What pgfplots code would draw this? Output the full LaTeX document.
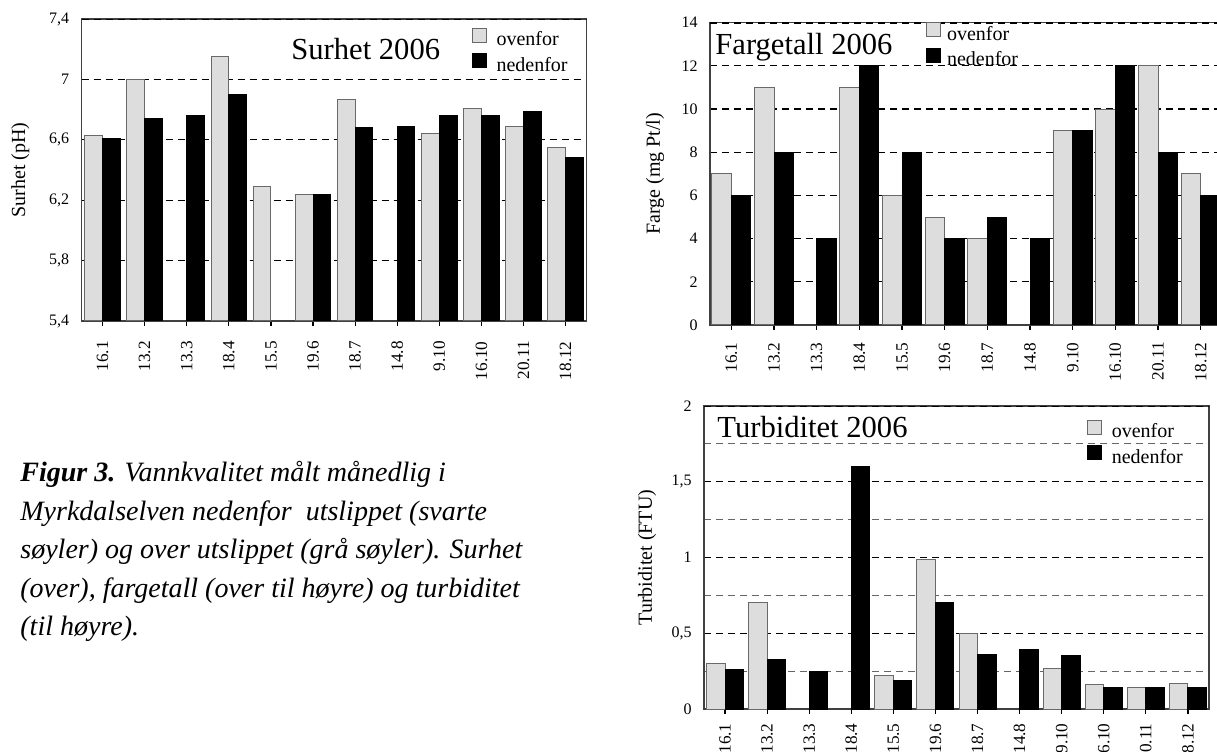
\documentclass[border=0pt]{standalone}
\usepackage{fontspec}
\setmainfont{Liberation Serif}
\usepackage{pgfplots}
\pgfplotsset{compat=1.18}
\definecolor{barGray}{RGB}{221,221,221}
\definecolor{edgeGray}{RGB}{105,105,105}
\newcommand\ticklabelfont{\fontsize{8}{9}\selectfont}
\newcommand\xticklabelfont{\fontsize{8.6}{9}\selectfont}
\newcommand\labelfont{\fontsize{10}{12}\selectfont}
\newcommand\legendfont{\fontsize{10}{12}\selectfont}
\newcommand\titlefont{\fontsize{15.3}{18}\selectfont}
\newcommand\capfont{\fontsize{14}{19}\selectfont\itshape}
\pgfplotsset{
  boxlegend/.style={legend image code/.code={\draw[##1] (0pt,-1pt) rectangle (7pt,6pt);}},
  gbar/.style={fill=barGray, draw=edgeGray, line width=0.5pt, boxlegend},
  kbar/.style={fill=black, draw=black, line width=0.5pt, boxlegend},
  myaxis/.style={
    scale only axis,
    anchor=south west,
    xmin=-0.5, xmax=11.5,
    xtick={0,...,11},
    xticklabels={16.1,13.2,13.3,18.4,15.5,19.6,18.7,14.8,9.10,16.10,20.11,18.12},
    xtick pos=left, ytick pos=left,
    xtick align=outside, ytick align=inside,
    major tick length=2.5pt,
    minor tick length=0pt,
    tick style={black, line width=0.6pt},
    xticklabel style={rotate=90, anchor=east, inner sep=0pt, font=\xticklabelfont},
    yticklabel style={anchor=east, inner sep=0pt, xshift=-6pt, font=\ticklabelfont},
    ymajorgrids,
    major grid style={black, line width=0.6pt, dash pattern=on 3.5pt off 2.5pt},
    axis line style={black!75, line width=0.6pt},
    ybar=0pt,
    /pgf/number format/assume math mode=true,
    /pgf/number format/use comma,
    legend cell align=left,
    every axis y label/.style={rotate=90, anchor=base, font=\labelfont},
  },
  mylegend/.style={legend style={at={#1}, anchor=north west, draw=none, fill=none,
    inner sep=0pt, outer sep=0pt, row sep=2.25pt, column sep=5pt,
    font=\legendfont, nodes={inner sep=0pt}}},
}
\begin{document}
\begin{tikzpicture}
\useasboundingbox (0,0) rectangle (608.5pt,375.5pt);

% ---------------- Surhet ----------------
\begin{axis}[myaxis,
  at={(40.75pt,215pt)}, width=252.6pt, height=151pt,
  ymin=5.4, ymax=7.4,
  ytick={5.4,5.8,6.2,6.6,7.0,7.4},
  bar width=0.42,
  xticklabel shift=7.5pt,
  ylabel={Surhet (pH)},
  ylabel style={at={(axis description cs:-0.1117,0.5)}},
  mylegend={(axis description cs:0.772,0.971)},
]
\addplot[gbar] coordinates {(0,6.63)(1,7.0)(3,7.15)(4,6.29)(5,6.24)(6,6.87)(8,6.64)(9,6.81)(10,6.69)(11,6.55)};
\addplot[kbar] coordinates {(0,6.61)(1,6.74)(2,6.76)(3,6.90)(5,6.24)(6,6.68)(7,6.69)(8,6.76)(9,6.76)(10,6.79)(11,6.48)};
\legend{ovenfor,nedenfor}
\draw[black, line width=0.9pt, dash pattern=on 3.5pt off 2.5pt] (rel axis cs:0,1) -- (rel axis cs:1,1);
\end{axis}

% ---------------- Farge ----------------
\begin{axis}[myaxis,
  at={(355pt,213pt)}, width=256pt, height=151.15pt,
  ymin=0, ymax=14,
  ytick={0,2,...,14},
  bar width=0.46,
  xticklabel shift=6pt,
  ylabel={Farge (mg Pt/l)},
  ylabel style={at={(axis description cs:-0.098,0.5)}},
  mylegend={(axis description cs:0.422,1.001)},
  legend style={column sep=3pt},
]
\addplot[gbar] coordinates {(0,7)(1,11)(3,11)(4,6)(5,5)(6,4)(8,9)(9,10)(10,12)(11,7)};
\addplot[kbar] coordinates {(0,6)(1,8)(2,4)(3,12)(4,8)(5,4)(6,5)(7,4)(8,9)(9,12)(10,8)(11,6)};
\legend{ovenfor,nedenfor}
\draw[black, line width=0.9pt, dash pattern=on 3.5pt off 2.5pt] (rel axis cs:0,1) -- (rel axis cs:1,1);
\end{axis}

% ---------------- Turbiditet ----------------
\begin{axis}[myaxis,
  at={(352pt,21pt)}, width=252.5pt, height=151.5pt,
  ymin=0, ymax=2,
  ytick={0,0.5,1,1.5,2},
  minor ytick={0.25,0.75,1.25,1.75},
  yminorgrids,
  minor grid style={black!60, line width=0.6pt, dash pattern=on 3.5pt off 2.5pt},
  bar width=0.44,
  xticklabel shift=4.5pt,
  ylabel={Turbiditet (FTU)},
  ylabel style={at={(axis description cs:-0.103,0.5)}},
  mylegend={(axis description cs:0.758,0.955)},
]
\addplot[gbar] coordinates {(0,0.30)(1,0.70)(4,0.22)(5,0.99)(6,0.50)(8,0.27)(9,0.16)(10,0.14)(11,0.17)};
\addplot[kbar] coordinates {(0,0.26)(1,0.33)(2,0.25)(3,1.60)(4,0.19)(5,0.70)(6,0.36)(7,0.39)(8,0.35)(9,0.14)(10,0.14)(11,0.14)};
\legend{ovenfor,nedenfor}
\draw[black, line width=0.9pt, dash pattern=on 3.5pt off 2.5pt] (rel axis cs:0,1) -- (rel axis cs:1,1);
\end{axis}

% ---------------- Titles ----------------
\node[anchor=base west, inner sep=0pt, font=\titlefont] at (145.5pt,345.85pt) {Surhet 2006};
\node[anchor=base west, inner sep=0pt, font=\titlefont] at (357.5pt,348pt) {Fargetall 2006};
\node[anchor=base west, inner sep=0pt, font=\titlefont] at (358.5pt,156.5pt) {Turbiditet 2006};

% ---------------- Caption ----------------
\node[anchor=base west, inner sep=0pt, font=\capfont] at (10pt,134.65pt) {\textbf{Figur 3.} Vannkvalitet målt månedlig i};
\node[anchor=base west, inner sep=0pt, font=\capfont] at (10pt,115.4pt) {Myrkdalselven nedenfor\ \ utslippet (svarte};
\node[anchor=base west, inner sep=0pt, font=\capfont] at (10pt,96.15pt) {søyler) og over utslippet (grå søyler). Surhet};
\node[anchor=base west, inner sep=0pt, font=\capfont] at (10pt,76.9pt) {(over), fargetall (over til høyre) og turbiditet};
\node[anchor=base west, inner sep=0pt, font=\capfont] at (10pt,57.65pt) {(til høyre).};
\end{tikzpicture}
\end{document}
